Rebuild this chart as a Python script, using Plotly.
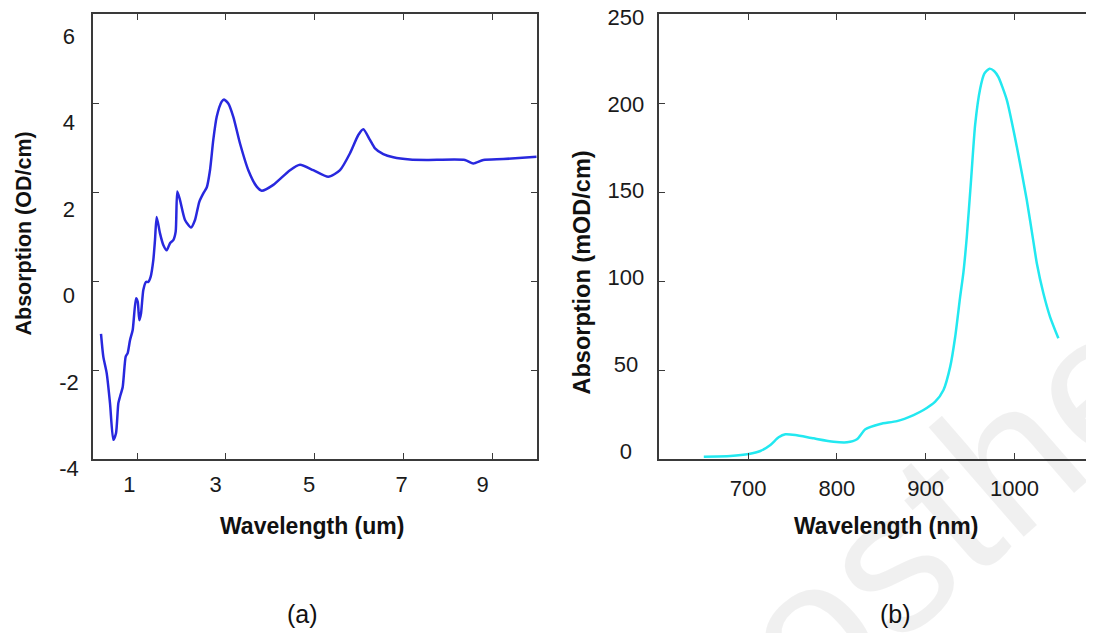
import plotly.graph_objects as go

# ---------------- data ----------------
# (a) broadband absorption, wavelength in um, absorption in OD/cm
wl_a = [0.187, 0.239, 0.315, 0.390, 0.464, 0.525, 0.577, 0.615, 0.676, 0.743,
        0.788, 0.840, 0.901, 0.975, 1.014, 1.050, 1.088, 1.140, 1.200, 1.252,
        1.306, 1.365, 1.403, 1.441, 1.516, 1.590, 1.667, 1.741, 1.815, 1.869,
        1.905, 1.966, 2.079, 2.214, 2.304, 2.401, 2.491, 2.568, 2.642, 2.716,
        2.793, 2.905, 2.957, 3.054, 3.167, 3.318, 3.505, 3.694, 3.806, 4.068,
        4.444, 4.669, 4.968, 5.306, 5.570, 5.795, 5.982, 6.095, 6.245, 6.358,
        6.545, 6.770, 7.146, 7.523, 8.385, 8.572, 8.797, 9.248, 10.0]
abs_a = [-1.19, -1.70, -2.07, -2.75, -3.57, -3.42, -2.75, -2.60, -2.38, -1.70,
         -1.62, -1.33, -1.10, -0.39, -0.47, -0.88, -0.73, -0.20, -0.02, -0.02,
         0.10, 0.47, 0.92, 1.44, 1.07, 0.81, 0.69, 0.85, 0.92, 1.11,
         2.01, 1.82, 1.37, 1.20, 1.37, 1.78, 1.97, 2.10, 2.49, 3.17,
         3.69, 4.03, 4.08, 3.99, 3.69, 3.09, 2.49, 2.12, 2.03, 2.16,
         2.49, 2.61, 2.49, 2.34, 2.49, 2.87, 3.28, 3.41, 3.17, 2.98,
         2.85, 2.78, 2.73, 2.72, 2.72, 2.64, 2.72, 2.74, 2.79]

# (b) near-IR absorption, wavelength in nm, absorption in mOD/cm
wl_b = [650.1, 680.1, 700.7, 713.8, 725.1, 734.4, 742.0, 753.2, 773.8, 796.3,
        811.4, 822.6, 832.0, 848.8, 867.6, 886.3, 897.5, 910.7, 920.0, 927.6,
        933.2, 938.8, 942.5, 946.3, 950.8, 955.7, 961.3, 966.0, 971.8, 977.0,
        981.9, 991.3, 1002.6, 1013.8, 1021.3, 1025.1, 1032.5, 1040.0, 1049.4]
abs_b = [1.3, 1.7, 2.8, 4.5, 7.9, 12.2, 13.9, 13.5, 11.6, 9.7,
         9.4, 11.1, 16.7, 19.7, 21.3, 24.7, 27.5, 32.2, 38.8, 51.9,
         68.7, 91.2, 105.0, 125.0, 154.9, 188.0, 208.0, 216.5, 219.3, 218.0,
         214.5, 201.7, 175.4, 145.5, 122.0, 110.0, 93.1, 79.9, 67.8]

# tick marks and labels
a_xticks = [1, 3, 5, 7, 9]
a_xlabel_pos = [0.824, 2.770, 4.872, 6.959, 8.784]
a_xlabels = ["1", "3", "5", "7", "9"]
a_yticks = [-4, -2, 0, 2, 4, 6]
a_ylabels = ["-4", "-2", "0\u2006", "2\u2006", "4\u2006", "6\u2006"]
b_xticks = [700, 800, 900, 1000]
b_xlabels = ["700", "800", "900", "1000"]
b_yticks = [0, 50, 100, 150, 200, 250]
b_ylabels = ["0\u2007", "50\u00a0", "100", "150", "200", "250"]

FONT = "Arial, Liberation Sans, sans-serif"
AXC = "#3a3a3a"
OFF = 8                      # page body margin of the html page
W, H = 1094 - OFF, 633 - OFF


def px_x(p):
    return (p - OFF) / W


def px_y(p):
    return 1 - (p - OFF) / H


fig = go.Figure()
fig.add_trace(go.Scatter(x=wl_a, y=abs_a, mode="lines", line=dict(color="#2828de", width=2.5,
                         shape="spline", smoothing=0.6), xaxis="x", yaxis="y", showlegend=False))
fig.add_trace(go.Scatter(x=wl_b, y=abs_b, mode="lines", line=dict(color="#22e8f0", width=2.5,
                         shape="spline", smoothing=0.6), xaxis="x2", yaxis="y2", showlegend=False))
# empty traces so the label-only axes are drawn
fig.add_trace(go.Scatter(x=[None], y=[None], xaxis="x3", yaxis="y", showlegend=False, hoverinfo="skip"))
fig.add_trace(go.Scatter(x=[None], y=[None], xaxis="x", yaxis="y3", showlegend=False, hoverinfo="skip"))
fig.add_trace(go.Scatter(x=[None], y=[None], xaxis="x2", yaxis="y4", showlegend=False, hoverinfo="skip"))

ydom = [px_y(459), px_y(14)]
tickfont = dict(family=FONT, size=22, color="#1a1a1a")
frame = dict(showline=True, linecolor=AXC, linewidth=1.6, ticks="inside", ticklen=6,
             tickwidth=1.4, tickcolor=AXC, showgrid=False, zeroline=False, automargin=False,
             ticklabeloverflow="allow")
labelonly = dict(ticks="", showline=False, showgrid=False, zeroline=False, automargin=False,
                 tickfont=tickfont, ticklabeloverflow="allow")

fig.update_layout(
    template="none",
    width=W, height=H, margin=dict(l=0, r=0, t=0, b=0, pad=0, autoexpand=False),
    paper_bgcolor="white", plot_bgcolor="rgba(0,0,0,0)", showlegend=False,
    xaxis=dict(domain=[px_x(92.7), px_x(536.7)], range=[0, 10], tickvals=a_xticks,
               showticklabels=False, mirror="ticks", anchor="y", **frame),
    yaxis=dict(domain=ydom, range=[-4, 6], tickvals=a_yticks, showticklabels=False,
               mirror="ticks", anchor="x", **frame),
    xaxis3=dict(overlaying="x", range=[0, 10], tickvals=a_xlabel_pos, ticktext=a_xlabels,
                anchor="y", side="bottom", ticklabelstandoff=10, **labelonly),
    yaxis3=dict(domain=[px_y(470.5), px_y(33.84)], range=[-4.05, 6.05], tickvals=a_yticks,
                ticktext=a_ylabels, anchor="x", side="left", ticklabelstandoff=13, **labelonly),
    xaxis2=dict(domain=[px_x(659.3), 1.0], range=[600, 1089.5], tickvals=b_xticks,
                ticktext=b_xlabels, mirror="ticks", anchor="y2", tickfont=tickfont,
                ticklabelstandoff=9, **frame),
    yaxis2=dict(domain=ydom, range=[0, 250], tickvals=b_yticks, showticklabels=False,
                mirror=False, anchor="x2", **frame),
    yaxis4=dict(domain=[px_y(456.2), px_y(13.0)], range=[-3, 252.4], tickvals=b_yticks,
                ticktext=b_ylabels, anchor="x2", side="left", ticklabelstandoff=14, **labelonly),
)


def note(text, x, y, size, bold=False, angle=0, color="#111111"):
    fig.add_annotation(text=f"<b>{text}</b>" if bold else text, x=px_x(x), y=px_y(y),
                       xref="paper", yref="paper", showarrow=False, textangle=angle,
                       xanchor="center", yanchor="middle",
                       font=dict(family=FONT, size=size, color=color))


# faint watermark seen in the reference image
note("osthe", 950, 508, 200, angle=-41, color="rgba(0,0,0,0.06)")

note("Wavelength (um)", 312.2, 526, 23, bold=True)
note("Wavelength (nm)", 885.8, 526, 23, bold=True)
note("Absorption (OD/cm)", 23, 233.5, 21.5, bold=True, angle=-90)
note("Absorption (mOD/cm)", 581, 272.5, 23.5, bold=True, angle=-90)
note("(a)", 303, 614, 25)
note("(b)", 895, 614, 25)

fig.write_html("out.html")
